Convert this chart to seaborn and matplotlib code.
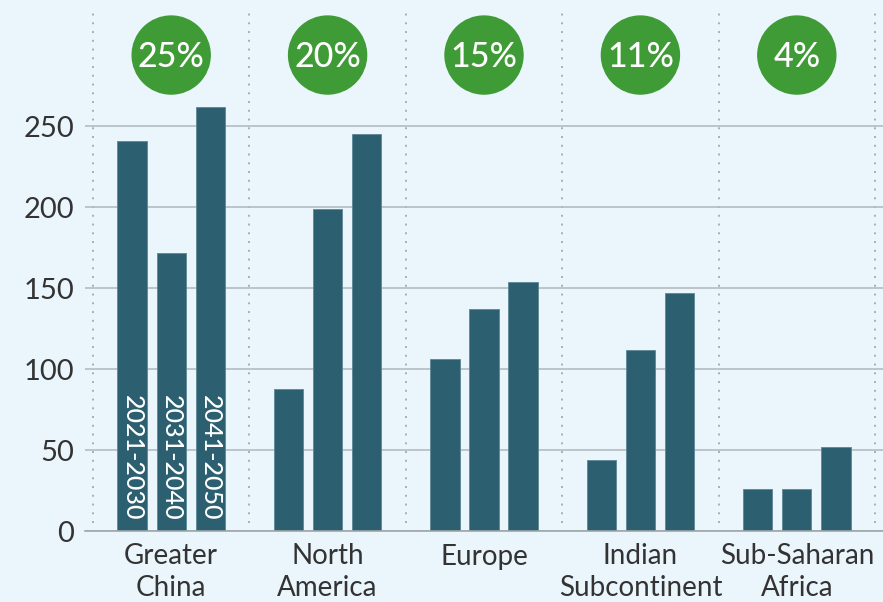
import matplotlib
matplotlib.use("Agg")
import matplotlib.pyplot as plt
import seaborn as sns
import pandas as pd
from matplotlib.patches import Ellipse

regions = ["Greater\nChina", "North\nAmerica", "Europe", "Indian\nSubcontinent", "Sub-Saharan\nAfrica"]
periods = ["2021-2030", "2031-2040", "2041-2050"]
v_2021_2030 = [241, 88, 106, 44, 26]
v_2031_2040 = [172, 199, 137, 112, 26]
v_2041_2050 = [262, 245, 154, 147, 52]
shares = ["25%", "20%", "15%", "11%", "4%"]
yticks = [0, 50, 100, 150, 200, 250]

rows = []
for p, vals in zip(periods, [v_2021_2030, v_2031_2040, v_2041_2050]):
    for r, v in zip(regions, vals):
        rows.append({"region": r, "period": p, "value": v})
df = pd.DataFrame(rows)

sns.set_theme(style="white")
plt.rcParams['font.family'] = ['Lato', 'DejaVu Sans']

bg = "#EAF6FC"
bar_c = "#2C5F70"
green = "#3F9B35"
txt = "#333333"

fig = plt.figure(figsize=(8.83, 6.02), dpi=100, facecolor=bg)
ax = fig.add_axes([85/883, 71/602, 798/883, 531/602])
ax.set_facecolor(bg)

sns.barplot(data=df, x="region", y="value", hue="period", order=regions, hue_order=periods,
            palette=[bar_c]*3, width=0.75, gap=0.25, legend=False, ax=ax, saturation=1,
            edgecolor="#5E8796", linewidth=0.6)

ax.set_xlim(-0.551, 4.551)
ax.set_ylim(0, 328)
ax.set_yticks(yticks)
ax.yaxis.grid(True, color="#B5BCC0", linewidth=1.2)
ax.set_axisbelow(True)
for s in ["top", "right", "left"]:
    ax.spines[s].set_visible(False)
ax.spines["bottom"].set_color("#A0A6AA")
ax.spines["bottom"].set_linewidth(1.2)
ax.tick_params(axis="y", length=0, labelsize=21, labelcolor=txt, pad=8)
ax.tick_params(axis="x", length=0, labelsize=20, labelcolor=txt, pad=9)
ax.set_xlabel("")
ax.set_ylabel("")
for lab in ax.get_xticklabels():
    lab.set_linespacing(1.25)

# dotted separators
for xs in [-0.5, 0.5, 1.5, 2.5, 3.5, 4.5]:
    ax.plot([xs, xs], [5, 322], color="#A8AEB2", linestyle=(0, (1, 3.5)), linewidth=1.4, zorder=0)

# period labels inside the first group's bars
for i, p in enumerate(periods):
    bar = ax.containers[i][0]
    xc = bar.get_x() + bar.get_width() / 2
    ax.text(xc, 45, p, rotation=270, color="white", fontsize=18, fontweight="medium",
            ha="center", va="center")

# green circles
data_per_px_x = (4.551 + 0.551) / 798
data_per_px_y = 328 / 531
for i, s in enumerate(shares):
    ax.add_patch(Ellipse((i, 294), 78 * data_per_px_x, 78 * data_per_px_y, color=green, zorder=3, clip_on=False))
    ax.text(i, 293, s, color="white", fontsize=24.5, fontweight="medium", ha="center", va="center", zorder=4)

fig.savefig("out.png", dpi=100, facecolor=bg)
